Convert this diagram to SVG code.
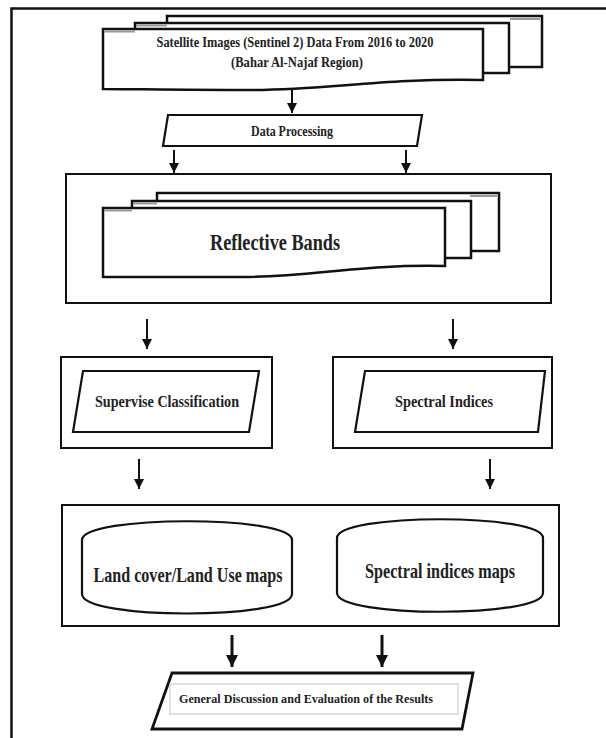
<svg xmlns="http://www.w3.org/2000/svg" width="606" height="738" viewBox="0 0 606 738">
<style>
.doc{fill:#fff;stroke:#111;stroke-width:2.5;stroke-linejoin:miter}
.box{fill:#fff;stroke:#111;stroke-width:2}
.shape{fill:#fff;stroke:#111;stroke-width:2.2}
.gray{stroke:#999;stroke-width:2;fill:none}
.t{font-family:"Liberation Serif","Times New Roman",serif;font-weight:bold;fill:#222;text-anchor:middle}
.ar{stroke:#111;stroke-width:2;fill:none}
.ar2{stroke:#111;stroke-width:3;fill:none}
</style>
<defs>
<marker id="a" markerUnits="userSpaceOnUse" markerWidth="10" markerHeight="11" refX="10" refY="5" orient="auto" viewBox="0 0 10 10">
<path d="M0,0 L10,5 L0,10 Z" fill="#111"/>
</marker>
<marker id="ab" markerUnits="userSpaceOnUse" markerWidth="12" markerHeight="12" refX="12" refY="6" orient="auto" viewBox="0 0 12 12">
<path d="M0,0 L12,6 L0,12 Z" fill="#111"/>
</marker>
</defs>
<rect width="606" height="738" fill="#fff"/>
<g id="frame">
<path d="M11.5,738 L11.5,8.5 L606,8.5" fill="none" stroke="#111" stroke-width="2.5"/>
</g>

<g id="connectors">
<line class="ar" x1="292" y1="88" x2="292" y2="113" marker-end="url(#a)"/>
<line class="ar" x1="174" y1="150" x2="174" y2="173" marker-end="url(#a)"/>
<line class="ar" x1="406" y1="150" x2="406" y2="173" marker-end="url(#a)"/>
<line class="ar" x1="147" y1="319" x2="147" y2="349" marker-end="url(#a)"/>
<line class="ar" x1="453" y1="319" x2="453" y2="349" marker-end="url(#a)"/>
<line class="ar" x1="139" y1="459" x2="139" y2="489" marker-end="url(#a)"/>
<line class="ar" x1="490" y1="459" x2="490" y2="489" marker-end="url(#a)"/>
<line class="ar2" x1="232" y1="635" x2="232" y2="667" marker-end="url(#ab)"/>
<line class="ar2" x1="382" y1="635" x2="382" y2="667" marker-end="url(#ab)"/>
</g>

<g id="satellite">
<rect class="doc" x="167" y="16" width="375" height="51"/>
<line class="gray" x1="510" y1="19" x2="540" y2="19"/>
<rect class="doc" x="135" y="23" width="374" height="50"/>
<line class="gray" x1="136" y1="25.5" x2="167" y2="25.5"/>
<path class="doc" d="M103,29 L483,29 L483,80 C380,78 330,90 250,90 C180,90 130,89 103,89 Z"/>
<line class="gray" x1="104" y1="31.5" x2="135" y2="31.5"/>
<text class="t" x="295" y="47" font-size="14" textLength="277" lengthAdjust="spacingAndGlyphs">Satellite Images (Sentinel 2) Data From 2016 to 2020</text>
<text class="t" x="297" y="67" font-size="14" textLength="132" lengthAdjust="spacingAndGlyphs">(Bahar Al-Najaf Region)</text>
</g>

<g id="processing">
<path class="shape" d="M168,115 L422,115 L417,146 L163,146 Z"/>
<text class="t" x="292" y="136" font-size="14" textLength="82" lengthAdjust="spacingAndGlyphs">Data Processing</text>
</g>

<g id="reflective">
<rect class="box" x="66" y="174" width="485" height="129"/>
<rect class="doc" x="157" y="193" width="342" height="58"/>
<line class="gray" x1="470" y1="196" x2="497" y2="196"/>
<rect class="doc" x="132" y="201" width="339" height="57"/>
<line class="gray" x1="133" y1="203.5" x2="157" y2="203.5"/>
<path class="doc" d="M103,208 L445,208 L445,266 C360,264 310,277 240,277 C170,277 130,277 103,277 Z"/>
<line class="gray" x1="104" y1="210.5" x2="132" y2="210.5"/>
<text class="t" x="275" y="250" font-size="23" textLength="130" lengthAdjust="spacingAndGlyphs">Reflective Bands</text>
</g>

<g id="supervise">
<rect class="box" x="61" y="357" width="211" height="91"/>
<path class="shape" d="M83,371 L259,371 L249,432 L73,432 Z"/>
<text class="t" x="167" y="407" font-size="17" textLength="144" lengthAdjust="spacingAndGlyphs">Supervise Classification</text>
</g>

<g id="spectral">
<rect class="box" x="333" y="357" width="219" height="91"/>
<path class="shape" d="M365,371 L545,371 L538,432 L355,432 Z"/>
<text class="t" x="444" y="407" font-size="17" textLength="98" lengthAdjust="spacingAndGlyphs">Spectral Indices</text>
</g>

<g id="maps">
<rect class="box" x="62" y="505" width="497" height="121"/>
<path class="shape" d="M82,540 C82,515 292,515 292,540 L292,594 C292,620 82,620 82,594 Z"/>
<text class="t" x="188" y="582" font-size="21" textLength="189" lengthAdjust="spacingAndGlyphs">Land cover/Land Use maps</text>
<path class="shape" d="M337,538 C337,513 543,513 543,538 L543,593 C543,618 337,618 337,593 Z"/>
<text class="t" x="440" y="578" font-size="21" textLength="150" lengthAdjust="spacingAndGlyphs">Spectral indices maps</text>
</g>

<g id="discussion">
<path d="M172,673 L473,673 L462,729 L152,729 Z" fill="#fff" stroke="#111" stroke-width="2.8"/>
<rect x="170" y="684" width="288" height="30" fill="none" stroke="#ccc" stroke-width="1.2"/>
<text class="t" x="306" y="703" font-size="13" textLength="254" lengthAdjust="spacingAndGlyphs">General Discussion and Evaluation of the Results</text>
</g>
</svg>
